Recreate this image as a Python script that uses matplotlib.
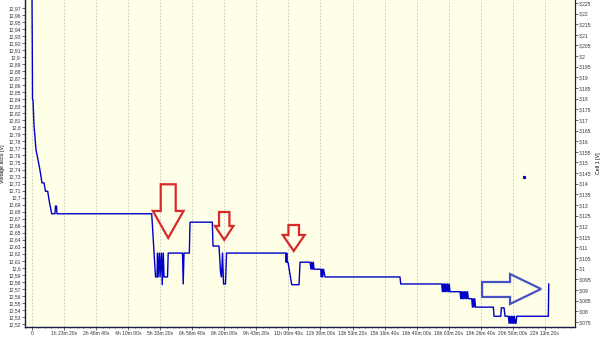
import matplotlib
matplotlib.use('Agg')
import matplotlib.pyplot as plt
from matplotlib.patches import Polygon
from matplotlib.ticker import FuncFormatter, MultipleLocator
import numpy as np

plt.rcParams['font.family'] = ['Liberation Sans', 'DejaVu Sans']

# time in seconds, accu voltage in volts
time_s = [0, 50, 80, 156, 312, 624, 936, 1248, 1560, 1872, 2106, 2450, 2652, 2964,
          3073, 3588, 3666, 3822, 3900, 18673, 19266, 19500, 19578, 19656, 19890,
          19968, 20202, 20311, 20483, 20592, 21138, 21247, 23478, 23587, 23712,
          24539, 24648, 28127, 28236, 29172, 29406, 29562, 29718, 29874, 30186,
          30342, 39577, 39655, 39733, 39827, 39936, 40513, 41652, 41808, 43368,
          43524, 43633, 43758, 43883, 43992, 45037, 45131, 45240, 45349, 45474,
          45708, 57400, 57517, 63913, 64020, 64130, 64240, 64350, 64460, 64570,
          64700, 64820, 64950, 65080, 65200, 65330, 66768, 66880, 66990, 67100,
          67210, 67330, 67450, 67570, 67690, 67810, 67930, 68063, 68593, 68700,
          68820, 68940, 69060, 69180, 69373, 71963, 72072, 73117, 73211, 73632,
          73788, 74303, 74420, 74540, 74660, 74780, 74900, 75020, 75140, 75260,
          75380, 75504, 75613, 80543, 80605]
accu_v = [12.985, 12.905, 12.840, 12.839, 12.803, 12.768, 12.754, 12.739, 12.721,
          12.721, 12.709, 12.709, 12.697, 12.682, 12.677, 12.677, 12.688, 12.688,
          12.677, 12.677, 12.587, 12.587, 12.621, 12.587, 12.621, 12.587, 12.621,
          12.576, 12.621, 12.587, 12.587, 12.621, 12.621, 12.577, 12.621, 12.621,
          12.665, 12.665, 12.631, 12.631, 12.594, 12.587, 12.621, 12.577, 12.577,
          12.621, 12.621, 12.608, 12.621, 12.608, 12.608, 12.576, 12.576, 12.608,
          12.608, 12.598, 12.608, 12.598, 12.608, 12.598, 12.598, 12.587, 12.598,
          12.587, 12.598, 12.587, 12.587, 12.577, 12.577, 12.566, 12.577, 12.566,
          12.577, 12.566, 12.577, 12.566, 12.577, 12.566, 12.577, 12.566, 12.566,
          12.566, 12.556, 12.566, 12.556, 12.566, 12.556, 12.566, 12.556, 12.566,
          12.556, 12.566, 12.556, 12.556, 12.544, 12.556, 12.544, 12.556, 12.544,
          12.544, 12.544, 12.531, 12.531, 12.543, 12.543, 12.531, 12.531, 12.521,
          12.531, 12.521, 12.531, 12.521, 12.531, 12.521, 12.531, 12.521, 12.521,
          12.531, 12.531, 12.577]

# lone cell point
dot_t = [76752]
dot_v = [12.729]

x_ticks = [0, 5000, 10000, 15000, 20000, 25000, 30000, 35000, 40000, 45000,
           50000, 55000, 60000, 65000, 70000, 75000, 80000]
x_labels = ['0', '1h 23m 20s', '2h 46m 40s', '4h 10m 00s', '5h 33m 20s',
            '6h 56m 40s', '8h 20m 00s', '9h 43m 20s', '11h 06m 40s',
            '12h 30m 00s', '13h 53m 20s', '15h 16m 40s', '16h 40m 00s',
            '18h 03m 20s', '19h 26m 40s', '20h 50m 00s', '22h 13m 20s']

# down arrows: centre time, top, head start, tip, shaft half width, head half width
down_arrows = [
    (21247, 12.719, 12.681, 12.6425, 1170, 2390),
    (29983, 12.6795, 12.6596, 12.6397, 811, 1435),
    (40825, 12.661, 12.6468, 12.624, 827, 1716),
]
# right arrow: left, head back, tip, shaft top/bottom, head top/bottom
right_arrow = (70200, 74568, 79404, 12.5798, 12.5585, 12.5912, 12.5485)


def comma_fmt(v, pos):
    s = ('%.3f' % v).rstrip('0').rstrip('.')
    return s.replace('.', ',')


fig = plt.figure(figsize=(6, 3.37), dpi=100)
fig.patch.set_facecolor('white')
ax = fig.add_axes([25 / 600, 10 / 337, 550 / 600, 327 / 337])
ax.set_facecolor('#fffee6')

ax.plot(time_s, accu_v, color='#0000c8', lw=1.0, zorder=3)
ax.plot(dot_t, dot_v, 's', color='#0000c8', ms=1.3, zorder=3)

for (xc, top, hb, tip, sw, hw) in down_arrows:
    pts = [(xc - sw, top), (xc + sw, top), (xc + sw, hb), (xc + hw, hb),
           (xc, tip), (xc - hw, hb), (xc - sw, hb)]
    ax.add_patch(Polygon(pts, closed=True, fill=False, edgecolor='#d42b2b',
                         lw=1.6, zorder=4, joinstyle='miter'))

l, hbk, tp, st, sb, ht, hbt = right_arrow
pts = [(l, st), (hbk, st), (hbk, ht), (tp, (ht + hbt) / 2), (hbk, hbt),
       (hbk, sb), (l, sb)]
ax.add_patch(Polygon(pts, closed=True, fill=False, edgecolor='#4452c4',
                     lw=1.6, zorder=4, joinstyle='miter'))

ax.set_xlim(-1092, 84700)
ax.set_ylim(12.5157, 12.9815)
ax.set_xticks(x_ticks)
ax.set_xticklabels(x_labels)
ax.xaxis.set_minor_locator(MultipleLocator(1000))
ax.set_yticks(np.arange(12.52, 12.975, 0.01))
ax.yaxis.set_major_formatter(FuncFormatter(comma_fmt))
ax.grid(axis='x', color='#c4c4c4', lw=0.6, linestyle=(0, (2, 2)))
ax.tick_params(axis='both', labelsize=3.6, length=2, width=0.5, pad=1,
               colors='#333333')
ax.tick_params(axis='x', which='minor', length=1, width=0.4)
ax.set_ylabel('Voltage accu [V]', fontsize=3.8, labelpad=2)

for side in ['left', 'bottom']:
    ax.spines[side].set_color('#1a1a50')
    ax.spines[side].set_linewidth(1.0)
ax.spines['top'].set_visible(False)

ax2 = ax.twinx()
ax2.set_ylim(3.0726, 3.2264)
ax2.set_yticks(np.arange(3.075, 3.2255, 0.005))
ax2.yaxis.set_major_formatter(FuncFormatter(comma_fmt))
ax2.tick_params(axis='y', labelsize=3.6, length=2, width=0.5, pad=1,
                colors='#333333')
ax2.set_ylabel('Cell 1 [V]', fontsize=3.8, labelpad=3)
ax2.spines['top'].set_visible(False)
ax2.spines['right'].set_color('#222222')
ax2.spines['left'].set_visible(False)
ax2.spines['bottom'].set_visible(False)

plt.savefig('out.png', dpi=100)
